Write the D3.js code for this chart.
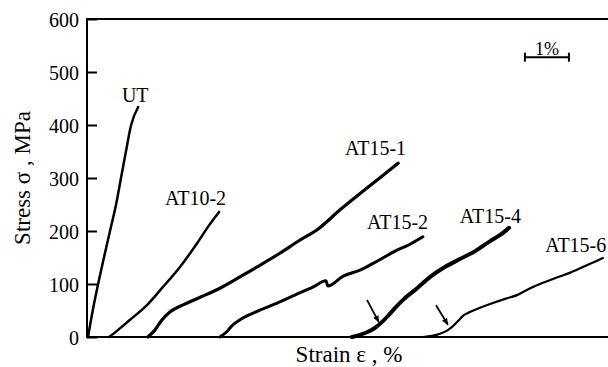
<!DOCTYPE html>
<html>
<head>
<meta charset="utf-8">
<script src="https://cdn.jsdelivr.net/npm/d3@7"></script>
<style>
  body { margin: 0; background: #fff; }
  svg text { fill: #000; }
</style>
</head>
<body>
<div id="chart"></div>
<script>
// stress-strain curves, strain in %, stress in MPa (curves shifted along strain)
const seriesNames = ['UT', 'AT10-2', 'AT15-1', 'AT15-2', 'AT15-4', 'AT15-6'];

const utStrain = [0, 0.11, 0.23, 0.36, 0.50, 0.64, 0.75, 0.86, 0.98, 1.14];
const utStress = [0, 51, 100, 149, 200, 251, 300, 349, 400, 434];

const at102Strain = [0.48, 0.68, 0.95, 1.34, 1.70, 2.09, 2.48, 2.77, 2.98];
const at102Stress = [0, 13, 32, 60, 94, 132, 177, 213, 236];

const at151Strain = [1.36, 1.52, 1.68, 1.86, 2.20, 2.55, 3.00, 3.61, 3.84, 4.36, 4.82, 5.20, 5.73, 6.34, 6.75, 7.05];
const at151Stress = [0, 13, 32, 47, 62, 75, 92, 121, 132, 158, 183, 202, 240, 281, 308, 328];

const at152Strain = [3.00, 3.14, 3.27, 3.52, 3.86, 4.30, 4.70, 5.11, 5.41, 5.45, 5.80, 6.18, 6.57, 6.98, 7.32, 7.61];
const at152Stress = [0, 9, 21, 36, 49, 64, 79, 94, 106, 96, 115, 126, 143, 162, 175, 189];

const at154Strain = [6.00, 6.18, 6.34, 6.52, 6.68, 6.82, 6.98, 7.16, 7.48, 7.77, 8.11, 8.45, 8.80, 9.14, 9.36, 9.57];
const at154Stress = [0, 4, 9, 17, 28, 40, 55, 70, 92, 113, 132, 147, 162, 181, 192, 206];

const at156Strain = [7.61, 7.82, 8.00, 8.18, 8.30, 8.41, 8.52, 8.68, 8.91, 9.20, 9.48, 9.75, 10.05, 10.27, 10.61, 10.95, 11.30, 11.52, 11.70];
const at156Stress = [0, 2, 6, 13, 21, 30, 40, 47, 55, 64, 72, 79, 92, 100, 111, 121, 134, 142, 149];

// where each curve's name is written [strain, stress]
const labelAt = [[0.77, 443], [1.75, 249], [5.84, 343], [6.34, 204], [8.45, 215], [10.39, 160]];

// arrows marking the yield onset on AT15-4 and AT15-6 [strain0, stress0, strain1, stress1]
const arrows = [[6.34, 70, 6.61, 28], [7.91, 60, 8.18, 23]];

const yTicks = [0, 100, 200, 300, 400, 500, 600];

const width = 608, height = 367;
const margin = { top: 19, left: 88, bottom: 30 };
const serif = '"Liberation Serif", "Times New Roman", Times, "DejaVu Serif", serif';

const x = d3.scaleLinear().domain([0, 12]).range([margin.left, margin.left + 12 * 44]);
const y = d3.scaleLinear().domain([0, 600]).range([height - margin.bottom, margin.top]);

const svg = d3.select('#chart').append('svg')
  .attr('width', width)
  .attr('height', height)
  .attr('font-family', serif);

const curves = [
  [utStrain, utStress, 2.5],
  [at102Strain, at102Stress, 2.5],
  [at151Strain, at151Stress, 3.2],
  [at152Strain, at152Stress, 3],
  [at154Strain, at154Stress, 4],
  [at156Strain, at156Stress, 2.2]
].map(([xs, ys, w], i) => ({ name: seriesNames[i], pts: xs.map((v, j) => [v, ys[j]]), w }));

// frame
svg.append('rect')
  .attr('x', x(0) - 1)
  .attr('y', y(600))
  .attr('width', x(12) - x(0) + 1)
  .attr('height', y(0) - y(600))
  .attr('fill', 'none')
  .attr('stroke', '#000')
  .attr('stroke-width', 2);

// y axis with inward ticks
const yAxis = svg.append('g')
  .attr('transform', `translate(${x(0) - 1},0)`)
  .call(d3.axisLeft(y).tickValues(yTicks).tickSizeInner(-10).tickSizeOuter(0).tickPadding(8));
yAxis.attr('font-family', serif).attr('font-size', 20);
yAxis.select('.domain').remove();
yAxis.selectAll('line').attr('stroke-width', 2);
yAxis.selectAll('text')
  .attr('font-size', 20)
  .attr('dy', '0.35em');

svg.append('text')
  .attr('transform', `translate(30,${(y(0) + y(600)) / 2}) rotate(-90)`)
  .attr('text-anchor', 'middle')
  .attr('font-size', 23)
  .text('Stress σ , MPa');

svg.append('text')
  .attr('x', 349)
  .attr('y', 362)
  .attr('text-anchor', 'middle')
  .attr('font-size', 23)
  .text('Strain ε , %');

const line = d3.line().x(d => x(d[0])).y(d => y(d[1])).curve(d3.curveMonotoneX);

svg.selectAll('.curve')
  .data(curves)
  .enter()
  .append('path')
  .attr('class', 'curve')
  .attr('d', d => line(d.pts))
  .attr('fill', 'none')
  .attr('stroke', '#000')
  .attr('stroke-width', d => d.w)
  .attr('stroke-linejoin', 'round')
  .attr('stroke-linecap', 'round');

svg.selectAll('.lbl')
  .data(seriesNames)
  .enter()
  .append('text')
  .attr('class', 'lbl')
  .attr('x', (d, i) => x(labelAt[i][0]))
  .attr('y', (d, i) => y(labelAt[i][1]))
  .attr('font-size', 20)
  .text(d => d);

// arrows
svg.append('defs').append('marker')
  .attr('id', 'head')
  .attr('viewBox', '0 0 10 10')
  .attr('refX', 9).attr('refY', 5)
  .attr('markerWidth', 4).attr('markerHeight', 4)
  .attr('orient', 'auto')
  .append('path')
  .attr('d', 'M0,1 L10,5 L0,9 Z')
  .attr('fill', '#000');

svg.selectAll('.arrow')
  .data(arrows)
  .enter()
  .append('line')
  .attr('x1', d => x(d[0])).attr('y1', d => y(d[1]))
  .attr('x2', d => x(d[2])).attr('y2', d => y(d[3]))
  .attr('stroke', '#000')
  .attr('stroke-width', 1.8)
  .attr('marker-end', 'url(#head)');

// 1% scale bar
const barFrom = 9.93, barTo = 10.93, barStress = 528;
const bar = svg.append('g').attr('stroke', '#000').attr('stroke-width', 2);
bar.append('line').attr('x1', x(barFrom)).attr('x2', x(barTo)).attr('y1', y(barStress)).attr('y2', y(barStress));
[barFrom, barTo].forEach(v => {
  bar.append('line').attr('x1', x(v)).attr('x2', x(v)).attr('y1', y(barStress) - 4.5).attr('y2', y(barStress) + 4.5);
});
svg.append('text')
  .attr('x', (x(barFrom) + x(barTo)) / 2)
  .attr('y', y(barStress) - 2)
  .attr('text-anchor', 'middle')
  .attr('font-size', 18)
  .text('1%');
</script>
</body>
</html>
